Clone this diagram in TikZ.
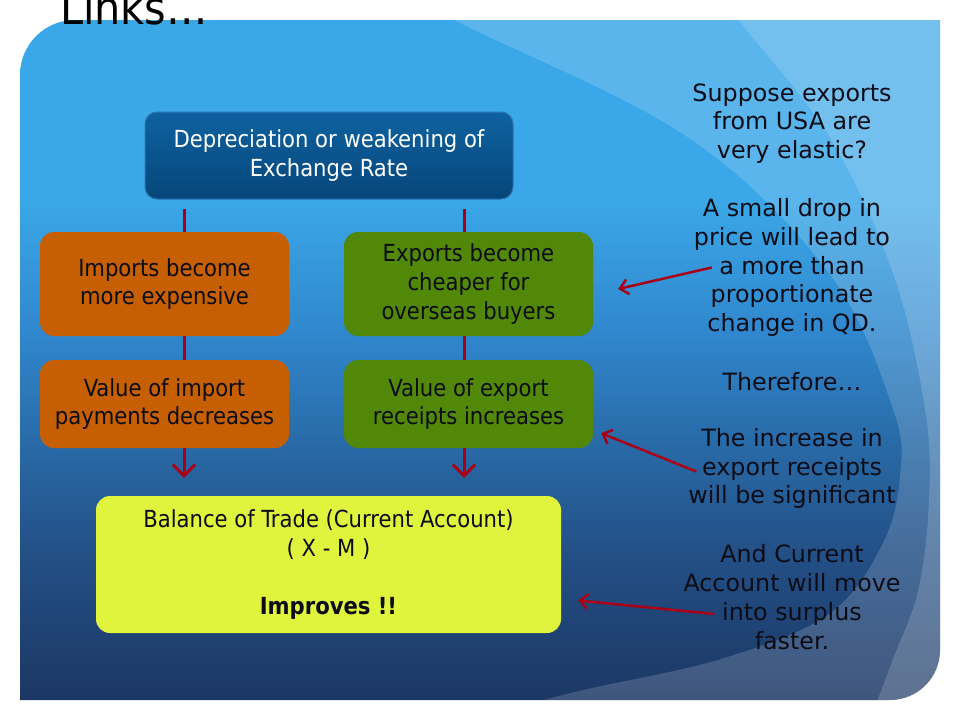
\documentclass[tikz,border=0pt]{standalone}
\usepackage{fontspec}
\setmainfont{DejaVu Sans Condensed}
\newfontfamily\notefont{DejaVu Sans}
\usepackage{tikz}
\usetikzlibrary{arrows.meta, calc}
\usepackage{xcolor}

\definecolor{paneltop}{RGB}{58,168,232}
\definecolor{panelc}{RGB}{48,135,205}
\definecolor{paneld}{RGB}{40,105,165}
\definecolor{panele}{RGB}{35,80,135}
\definecolor{panelbot}{RGB}{28,55,100}
\definecolor{deptop}{RGB}{14,98,160}
\definecolor{depbot}{RGB}{6,70,122}
\definecolor{depedge}{RGB}{45,115,175}
\definecolor{impfill}{RGB}{197,95,2}
\definecolor{expfill}{RGB}{81,136,7}
\definecolor{balfill}{RGB}{224,244,62}
\definecolor{linkred}{RGB}{170,0,22}
\definecolor{inktext}{RGB}{12,12,22}

\pgfdeclareverticalshading{panelshade}{100bp}{color(0bp)=(panelbot); color(25bp)=(panelbot); color(36bp)=(panele); color(43.5bp)=(paneld); color(52bp)=(panelc); color(62bp)=(paneltop); color(100bp)=(paneltop)}

\begin{document}
\begin{tikzpicture}[x=1pt, y=-1pt,
    box/.style={rounded corners=14pt, minimum width=249pt, align=center, inner sep=0pt,
        text=inktext, font=\fontsize{23.5}{28.8}\selectfont},
    link/.style={draw=linkred, line width=3pt},
    note/.style={draw=linkred, line width=2.5pt, -{Straight Barb[length=8pt, width=15pt]}},
    para/.style={align=center, inner sep=0pt, text=inktext, font=\notefont\fontsize{23.8}{28.8}\selectfont}]

    \useasboundingbox (0,0) rectangle (960,720);
    \clip (0,0) rectangle (960,720);
    \def\panel{(20,700) -- (20,75) .. controls (20,44.6) and (44.6,20) .. (75,20) -- (940,20)
        -- (940,650) .. controls (940,677.6) and (917.6,700) .. (890,700) -- cycle}

    % Background panel
    \fill[white] (0,0) rectangle (960,720);
    \shade[shading=panelshade] \panel;
    \begin{scope}
        \clip \panel;
        \fill[white, opacity=0.16] plot[smooth, tension=0.6] coordinates {(430,0) (454,20) (686,136) (829,273) (893,409) (900,477) (882,545) (829,614) (721,659) (579,691) (470,720)}
            -- (960,720) -- (960,0) -- cycle;
        \fill[white, opacity=0.16] plot[smooth, tension=0.6] coordinates {(735,0) (739,20) (829,136) (893,273) (925,409) (929,500) (918,591) (893,659) (870,720)}
            -- (960,720) -- (960,0) -- cycle;
    \end{scope}

    % Title
    \node[anchor=base west, inner sep=0pt, font=\fontsize{46}{50}\selectfont] (title) at (60,24) {Links…};

    % Chain of boxes
    \node[box, draw=depedge, line width=1pt, top color=deptop, bottom color=depbot, text=white,
        rounded corners=12pt, minimum width=368pt, minimum height=87pt] (dep) at (329,155.5)
        {Depreciation or weakening of\\Exchange Rate};
    \node[box, fill=impfill, minimum height=104pt] (imp) at (164.5,284) {Imports become\\more expensive};
    \node[box, fill=impfill, minimum height=88pt] (impv) at (164.5,404) {Value of import\\payments decreases};
    \node[box, fill=expfill, minimum height=104pt] (exp) at (468.5,284) {Exports become\\cheaper for\\overseas buyers};
    \node[box, fill=expfill, minimum height=88pt] (expv) at (468.5,404) {Value of export\\receipts increases};
    \node[box, fill=balfill, minimum width=465pt, minimum height=137pt] (bal) at (328.5,564.5)
        {Balance of Trade (Current Account)\\( X - M )\\[28.8pt]\textbf{Improves !!}};

    % Links down the two columns
    \foreach \a/\b/\dx in {imp/impv/19.5, exp/expv/-4.5} {
        \draw[link] ($(\a.north |- dep.south)+(\dx,9)$) -- ($(\a.north)+(\dx,0)$);
        \draw[link] ($(\a.south)+(\dx,0)$) -- ($(\b.north)+(\dx,0)$);
        \draw[link, -{Straight Barb[length=11pt, width=22pt]}] ($(\b.south)+(\dx,0)$) -- ($(bal.north -| \b.south)+(\dx,-18)$);
    }

    % Notes on the right
    \node[para] (p1) at (792,123.5) {Suppose exports\\from USA are\\very elastic?};
    \node[para] (p2) at (792,267.5) {A small drop in\\price will lead to\\a more than\\proportionate\\change in QD.};
    \node[para] (p3) at (792,382) {Therefore…};
    \node[para] (p4) at (792,468.5) {The increase in\\export receipts\\will be significant};
    \node[para] (p5) at (792,597) {And Current\\Account will move\\into surplus\\faster.};

    \draw[note] ($(p2.west)+(18,0)$) -- ($(exp.east)+(25,5)$);
    \draw[note] ($(p4.west)+(8,3)$) -- ($(expv.south east)+(8,-15)$);
    \draw[note] ($(p5.west)+(31,17)$) -- ($(bal.east)+(17,36)$);

\end{tikzpicture}
\end{document}
